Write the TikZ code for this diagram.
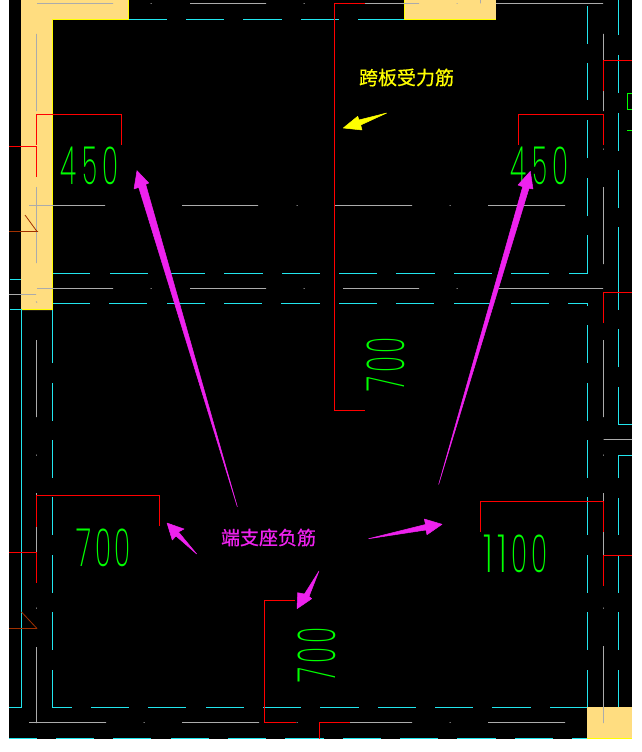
\documentclass[tikz,border=0pt]{standalone}
\usepackage{fontspec}
\usepackage{graphicx}
\newfontfamily\cadfont{Poppins ExtraLight}
\newfontfamily\cjkfont[FakeBold=0.6]{Noto Sans CJK SC}
\definecolor{wall}{HTML}{FFDD80}
\definecolor{cadcyan}{HTML}{22E6EE}
\definecolor{cadgray}{HTML}{ABABAB}
\definecolor{cadred}{HTML}{FF0000}
\definecolor{cadbrown}{HTML}{A03000}
\definecolor{cadgreen}{HTML}{00FF00}
\definecolor{pointer}{HTML}{EE22EE}
\definecolor{noteyellow}{HTML}{FFFF00}
\newcommand{\cadglyph}[3]{\makebox[#3pt][l]{\resizebox{#2pt}{37.5pt}{\cadfont #1}}}
\tikzset{
  wallfill/.style={fill=wall},
  walledge/.style={draw=noteyellow,line width=0.9pt},
  cyanline/.style={draw=cadcyan,line width=0.8pt},
  grayline/.style={draw=cadgray,line width=0.8pt},
  redline/.style={draw=cadred,line width=0.8pt},
  brownline/.style={draw=cadbrown,line width=0.8pt},
  greenline/.style={draw=cadgreen,line width=0.8pt},
  dimtext/.style={text=cadgreen,inner sep=0pt,outer sep=0pt},
  magentaarrow/.style={fill=pointer,draw=pointer,line width=0.5pt,line join=round},
  yellowarrow/.style={fill=noteyellow,draw=noteyellow,line width=0.5pt,line join=round},
  notetext/.style={inner sep=0pt,font=\cjkfont\fontsize{19}{19}\selectfont}
}
\begin{document}
\begin{tikzpicture}[x=1pt,y=-1pt]
\useasboundingbox (0,0) rectangle (641,752);
\fill[black] (9,0) rectangle (632,739);
% walls
\fill[wallfill] (21,0) -- (128.7,0) -- (128.7,20) -- (52.7,20) -- (52.7,310) -- (21,310) -- cycle;
\fill[wallfill] (404,0) rectangle (496,20);
\fill[wallfill] (587,707) rectangle (632,738);
\draw[walledge] (128.7,0) -- (128.7,19.7) -- (52.7,19.7) -- (52.7,309.8) -- (21,309.8);
\draw[walledge] (404,0) -- (404,19.7) -- (496,19.7);
\draw[walledge] (587,738) -- (632,738);
% cyan lines
\draw[cyanline]
 (129,19.5)--(167,19.5) (186,19.5)--(224,19.5) (243,19.5)--(282,19.5) (301,19.5)--(339,19.5) (358,19.5)--(404,19.5)
 (53,273.5)--(90,273.5) (110,273.5)--(148,273.5) (167,273.5)--(205,273.5) (224,273.5)--(263,273.5) (282,273.5)--(320,273.5)
 (339,273.5)--(377,273.5) (396,273.5)--(435,273.5) (454,273.5)--(492,273.5) (511,273.5)--(549,273.5) (569,273.5)--(587.5,273.5)--(587.5,235)
 (587.5,216)--(587.5,178) (587.5,158)--(587.5,120) (587.5,100)--(587.5,63) (587.5,44)--(587.5,6)
 (53,303.5)--(90,303.5) (109,303.5)--(147,303.5) (167,303.5)--(205,303.5) (224,303.5)--(262,303.5) (281,303.5)--(320,303.5)
 (339,303.5)--(377,303.5) (396,303.5)--(434,303.5) (454,303.5)--(492,303.5) (511,303.5)--(549,303.5) (568,303.5)--(587.5,303.5)--(587.5,305.5)
 (587.5,325)--(587.5,363) (587.5,383)--(587.5,421) (587.5,440)--(587.5,478) (587.5,497)--(587.5,535) (587.5,555)--(587.5,593) (587.5,612)--(587.5,650) (587.5,670)--(587.5,707)
 (52.5,310)--(52.5,363) (52.5,383)--(52.5,421) (52.5,440)--(52.5,478) (52.5,497)--(52.5,535) (52.5,555)--(52.5,593) (52.5,612)--(52.5,650) (52.5,670)--(52.5,707.5)--(72,707.5)
 (91,707.5)--(129,707.5) (148,707.5)--(186,707.5) (206,707.5)--(244,707.5) (263,707.5)--(301,707.5)
 (320,707.5)--(359,707.5) (378,707.5)--(416,707.5) (435,707.5)--(473,707.5) (492,707.5)--(531,707.5) (550,707.5)--(587,707.5)
 (21.5,310)--(21.5,707.5)--(9,707.5) (10,309.5)--(21.5,309.5) (10,279.5)--(21,279.5)
 (9,738)--(37,738) (56,738)--(94,738) (113,738)--(151,738) (171,738)--(209,738) (228,738)--(266,738) (285,738)--(324,738)
 (343,738)--(381,738) (400,738)--(438,738) (457,738)--(496,738) (515,738)--(553,738) (572,738)--(587,738)
 (618.5,0)--(618.5,35) (618.5,55)--(618.5,93) (618.5,113)--(618.5,151) (618.5,170)--(618.5,208) (618.5,227)--(618.5,310) (618.5,329)--(618.5,367)
 (618.5,387)--(618.5,424.5)--(632,424.5) (632,455.5)--(618.5,455.5)--(618.5,478) (618.5,498)--(618.5,535) (618.5,556)--(618.5,593) (618.5,612)--(618.5,650) (618.5,670)--(618.5,707);
% gray lines
\draw[grayline]
 (37,3.5)--(113,3.5) (150.5,3.5)--(151.5,3.5) (190,3.5)--(266,3.5) (303.5,3.5)--(304.5,3.5) (365,3.5)--(419,3.5) (456.5,3.5)--(457.5,3.5) (480.5,0)--(480.5,3.5) (496,3.5)--(603,3.5)
 (29,205.5)--(105,205.5) (182,205.5)--(258,205.5) (296.5,205.5)--(297.5,205.5) (335,205.5)--(412,205.5) (449.5,205.5)--(450.5,205.5) (488,205.5)--(565,205.5)
 (37,288.5)--(113,288.5) (150.5,288.5)--(151.5,288.5) (190,288.5)--(266,288.5) (303.5,288.5)--(304.5,288.5) (343,288.5)--(419,288.5) (456.5,288.5)--(457.5,288.5) (499,288.5)--(603,288.5)
 (9,294.5)--(36,294.5) (36,301.5)--(37,302.5)
 (36.5,34)--(36.5,111) (36.5,187)--(36.5,263) (36.5,340)--(36.5,417) (36.5,454.5)--(36.5,455.5) (36.5,493)--(36.5,496) (36.5,527)--(36.5,552) (36.5,607.5)--(36.5,608.5) (36.5,647)--(36.5,723)
 (29,722.5)--(106,722.5) (143.5,722.5)--(144.5,722.5) (182,722.5)--(259,722.5) (296.5,722.5)--(297.5,722.5) (350,722.5)--(412,722.5) (449.5,722.5)--(450.5,722.5) (488,722.5)--(565,722.5)
 (603.5,34)--(603.5,111) (603.5,148.5)--(603.5,149.5) (603.5,187)--(603.5,264) (603.5,340)--(603.5,417) (603.5,439.5)--(632,439.5) (603.5,454.5)--(603.5,455.5) (603.5,493)--(603.5,501) (603.5,532)--(603.5,555) (603.5,607.5)--(603.5,608.5) (603.5,646)--(603.5,723);
% red lines
\draw[redline]
 (36.5,144.5)--(36.5,114.5)--(121.5,114.5)--(121.5,144.7)
 (9,146.5)--(36.5,146.5)--(36.5,176.5)
 (518.5,144.7)--(518.5,114.5)--(603.5,114.5)--(603.5,144.7)
 (603.5,91)--(603.5,60.5)--(632,60.5)
 (603.5,323)--(603.5,292.5)--(632,292.5)
 (365,3.5)--(334.5,3.5)--(334.5,410.5)--(365,410.5)
 (36.5,527)--(36.5,495.5)--(159.5,495.5)--(159.5,525.7)
 (9,552.5)--(36.5,552.5)--(36.5,582.7)
 (295,600.5)--(264.5,600.5)--(264.5,722.5)--(296,722.5)
 (319.5,739)--(319.5,722.5)--(350,722.5)
 (480.5,531.7)--(480.5,501.5)--(603.5,501.5)--(603.5,531.7)
 (632,555.5)--(603.5,555.5)--(603.5,586);
% brown break marks
\draw[brownline] (9,231.5)--(38,231.5) (25,215)--(37,231.5);
\draw[brownline] (9,628.5)--(37,628.5) (21.5,612)--(37,628.5);
% cut-off green mark at the right edge
\draw[greenline] (632,93.5)--(627.5,93.5)--(627.5,109.5)--(632,109.5) (627,130.5)--(632,130.5);
% dimension texts
\node[dimtext,anchor=north west] (d1) at (60,147) {\cadglyph{4}{16}{22.5}\cadglyph{5}{15}{20}\cadglyph{0}{16}{16}};
\node[dimtext,anchor=north west] (d2) at (510,147) {\cadglyph{4}{16}{22.5}\cadglyph{5}{15}{20}\cadglyph{0}{16}{16}};
\node[dimtext,anchor=north west] (d3) at (76.5,528.5) {\cadglyph{7}{15}{19}\cadglyph{0}{16}{19.5}\cadglyph{0}{16}{16}};
\node[dimtext,anchor=north west] (d4) at (483,534.5) {\cadglyph{1}{10}{14}\cadglyph{1}{10}{14.5}\cadglyph{0}{16}{20}\cadglyph{0}{16}{16}};
\node[dimtext,rotate=90] (d5) at (386,364.5) {\cadglyph{7}{15}{19}\cadglyph{0}{16}{19.5}\cadglyph{0}{16}{16}};
\node[dimtext,rotate=90] (d6) at (316.5,655) {\cadglyph{7}{15}{19}\cadglyph{0}{16}{19.5}\cadglyph{0}{16}{16}};
% notes
\node[notetext,text=noteyellow] (n1) at (406.5,77.5) {跨板受力筋};
\node[notetext,text=pointer] (n2) at (268.5,537.5) {端支座负筋};
% pointers
\filldraw[magentaarrow] (137,170.7) -- (148.7,183) -- (145.7,184.3) -- (237.3,506.7) -- (138.7,187.3) -- (134,189) -- cycle;
\filldraw[magentaarrow] (530.3,171.3) -- (533,189) -- (529,188.3) -- (438.7,484.3) -- (522.7,186.7) -- (518,185) -- cycle;
\filldraw[magentaarrow] (167,523) -- (184,529) -- (178.5,532) -- (196.7,554) -- (176,536) -- (172.3,540) -- cycle;
\filldraw[magentaarrow] (297,608.7) -- (297.7,592.7) -- (304.5,594) -- (319,571) -- (309,596.5) -- (311.7,598.7) -- cycle;
\filldraw[magentaarrow] (442,524.3) -- (424.3,519) -- (425.5,524.5) -- (368.7,538.7) -- (426,530) -- (427,534.7) -- cycle;
\filldraw[yellowarrow] (343.3,128) -- (357.7,116.3) -- (359,120) -- (386.7,113) -- (360.7,125) -- (362,130) -- cycle;
\end{tikzpicture}
\end{document}
